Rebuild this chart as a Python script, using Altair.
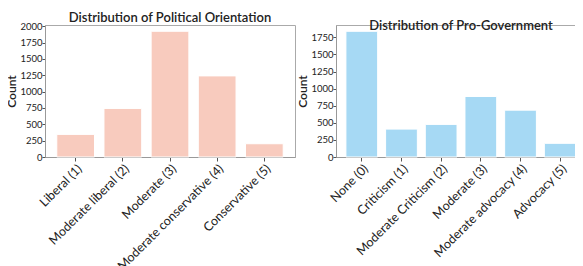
import altair as alt
import pandas as pd

pol_cats = ["Liberal (1)", "Moderate liberal (2)", "Moderate (3)", "Moderate conservative (4)", "Conservative (5)"]
pol_vals = [346, 743, 1924, 1241, 203]
gov_cats = ["None (0)", "Criticism (1)", "Moderate Criticism (2)", "Moderate (3)", "Moderate advocacy (4)", "Advocacy (5)"]
gov_vals = [1838, 408, 477, 885, 685, 200]

df1 = pd.DataFrame({"cat": pol_cats, "count": pol_vals})
df2 = pd.DataFrame({"cat": gov_cats, "count": gov_vals})

FONT = "Lato"

def panel(df, cats, color, title, ymax, ticks, w, toff, xtitle=None, xtpad=0):
    xaxis = dict(labelAngle=-45, labelFontSize=12.5, labelFont=FONT, labelColor="#222",
                 tickColor="#555", domainColor="#999", labelPadding=1, tickSize=4)
    if xtitle is not None:
        xaxis.update(titleFontSize=1, titlePadding=xtpad)
    return alt.Chart(df, title=alt.Title(title, fontSize=13, fontWeight=600, font=FONT, color="#222", offset=toff)).mark_bar(
        color=color, stroke="white", strokeWidth=1
    ).encode(
        x=alt.X("cat:N", sort=cats, title=xtitle,
                scale=alt.Scale(paddingInner=0.2, paddingOuter=0.25),
                axis=alt.Axis(**xaxis)),
        y=alt.Y("count:Q", title="Count",
                scale=alt.Scale(domain=[0, ymax], nice=False),
                axis=alt.Axis(values=ticks, format="d", grid=False, labelFontSize=9.5, labelFont=FONT, labelColor="#222",
                              titleFontSize=12, titleFont=FONT, titleFontWeight=600, titleColor="#222",
                              tickColor="#555", domainColor="#999", titlePadding=1, labelPadding=0, tickSize=3)),
    ).properties(width=w, height=132)

left = panel(df1, pol_cats, "#f8cbbe", "Distribution of Political Orientation", 2020,
             [0, 250, 500, 750, 1000, 1250, 1500, 1750, 2000], 250, -4)
right = panel(df2, gov_cats, "#a6d9f4", "Distribution of Pro-Government", 1930,
              [0, 250, 500, 750, 1000, 1250, 1500, 1750], 250, -8, xtitle=" ", xtpad=6)

chart = alt.hconcat(left, right, spacing=41, bounds="flush").configure_view(stroke="#aaa", strokeWidth=1).properties(
    autosize=alt.AutoSizeParams(type="none"),
    padding={"left": 37, "top": 17, "right": 530, "bottom": 233})
chart.save("out.html", embed_options={"renderer": "svg", "actions": False})
